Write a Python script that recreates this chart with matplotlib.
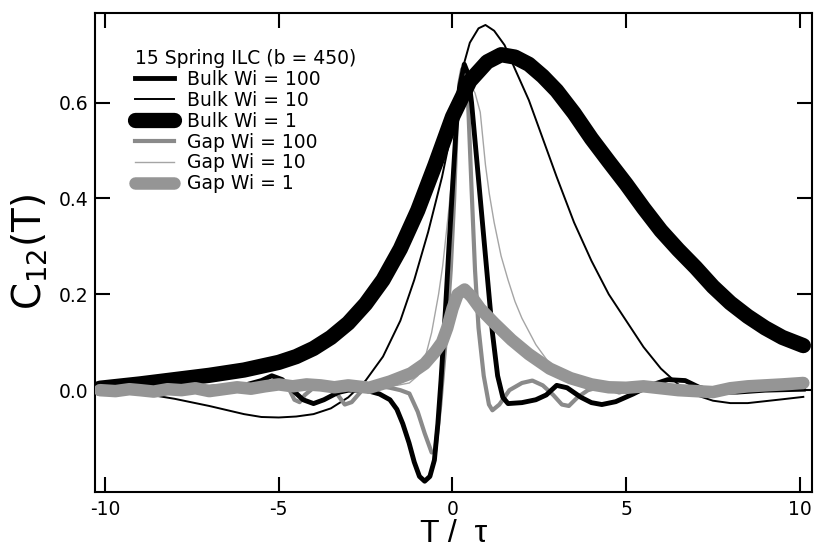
import matplotlib
matplotlib.use("Agg")
from matplotlib import pyplot as plt

plt.rcParams["font.family"] = ["DejaVu Sans"]
plt.rcParams["mathtext.default"] = "regular"

# Bulk Wi = 1 (broad peak)
t_bulk1 = [-10.15, -9, -8, -7, -6, -5, -4.5, -4, -3.5, -3, -2.5, -2, -1.5, -1, -0.5,
           0, 0.5, 1, 1.4, 1.8, 2.2, 2.6, 3, 3.5, 4, 4.5, 5, 5.5, 6, 6.5, 7, 7.5,
           8, 8.5, 9, 9.5, 10.1]
c_bulk1 = [0.004, 0.013, 0.022, 0.031, 0.042, 0.058, 0.07, 0.087, 0.11, 0.14, 0.18,
           0.23, 0.295, 0.375, 0.47, 0.57, 0.645, 0.685, 0.70, 0.695, 0.68, 0.655,
           0.625, 0.578, 0.525, 0.477, 0.43, 0.38, 0.333, 0.293, 0.256, 0.216,
           0.182, 0.154, 0.13, 0.11, 0.093]

# Bulk Wi = 10
t_bulk10 = [-10.15, -9, -8, -7, -6, -5.5, -5, -4.5, -4, -3.5, -3, -2.5, -2, -1.5,
            -1.1, -0.7, -0.3, 0, 0.25, 0.5, 0.75, 0.95, 1.2, 1.5, 1.8, 2.2, 2.6,
            3, 3.5, 4, 4.5, 5, 5.5, 6, 6.5, 7, 7.5, 8, 8.5, 9, 9.5, 10.1]
c_bulk10 = [0.0, -0.006, -0.018, -0.033, -0.05, -0.056, -0.057, -0.055, -0.05,
            -0.038, -0.015, 0.02, 0.07, 0.145, 0.23, 0.33, 0.445, 0.55, 0.66,
            0.725, 0.755, 0.762, 0.75, 0.72, 0.67, 0.605, 0.525, 0.445, 0.35,
            0.27, 0.2, 0.145, 0.09, 0.045, 0.012, -0.01, -0.022, -0.027, -0.027,
            -0.023, -0.019, -0.014]

# Bulk Wi = 100
t_bulk100 = [-10.15, -9, -8, -7, -6, -5.5, -5.2, -4.9, -4.6, -4.3, -4.0, -3.7,
             -3.3, -3, -2.5, -2.1, -1.8, -1.6, -1.43, -1.25, -1.1, -0.95, -0.8,
             -0.65, -0.52, -0.42, -0.33, -0.2, -0.1, 0.0, 0.1, 0.2, 0.34, 0.45,
             0.55, 0.7, 0.85, 1.0, 1.15, 1.3, 1.45, 1.6, 2.0, 2.4, 2.7, 3.0, 3.3,
             3.7, 4.0, 4.3, 4.7, 5.2, 5.7, 6.2, 6.7, 7.1, 7.6, 8.2, 9, 10.1]
c_bulk100 = [0.0, 0.002, 0.004, 0.006, 0.01, 0.02, 0.03, 0.022, 0.0, -0.02, -0.028,
             -0.02, -0.005, 0.0, 0.0, -0.008, -0.02, -0.04, -0.07, -0.11, -0.15,
             -0.18, -0.19, -0.18, -0.146, -0.07, 0.02, 0.17, 0.3, 0.42, 0.54, 0.63,
             0.68, 0.66, 0.6, 0.48, 0.36, 0.24, 0.12, 0.03, -0.015, -0.028, -0.026,
             -0.02, -0.01, 0.01, 0.005, -0.015, -0.026, -0.03, -0.024, -0.008,
             0.01, 0.022, 0.02, 0.006, -0.004, -0.004, 0.0, 0.002]

# Gap Wi = 100
t_gap100 = [-10.15, -9.5, -9, -8.5, -8, -7.5, -7, -6.5, -6, -5.5, -5, -4.7, -4.55,
            -4.4, -4.25, -4, -3.6, -3.3, -3.1, -2.9, -2.6, -2.2, -1.8, -1.5, -1.24,
            -1.0, -0.8, -0.6, -0.5, -0.35, -0.17, -0.05, 0.05, 0.12, 0.2, 0.28,
            0.38, 0.45, 0.55, 0.65, 0.75, 0.9, 1.05, 1.15, 1.35, 1.64, 2.0, 2.3,
            2.6, 2.9, 3.15, 3.35, 3.6, 3.9, 4.3, 4.8, 5.3, 5.8, 6.3, 6.8, 7.3, 7.8,
            8.3, 8.8, 9.3, 9.7, 10.1]
c_gap100 = [0.0, 0.003, -0.003, 0.002, -0.002, 0.004, 0.0, -0.004, 0.003, 0.006,
            0.01, 0.002, -0.02, -0.025, -0.01, 0.005, 0.01, -0.01, -0.03, -0.025,
            0.0, 0.01, 0.005, 0.0, -0.007, -0.045, -0.09, -0.13, -0.128, -0.03,
            0.125, 0.25, 0.4, 0.55, 0.64, 0.67, 0.655, 0.6, 0.42, 0.25, 0.13,
            0.03, -0.03, -0.042, -0.03, 0.0, 0.015, 0.02, 0.01, -0.01, -0.03,
            -0.033, -0.015, 0.0, 0.008, -0.005, 0.006, 0.0, 0.005, -0.004, 0.003,
            -0.006, 0.002, 0.006, 0.002, 0.008, 0.01]

# Gap Wi = 10
t_gap10 = [-10.15, -9, -8, -7, -6, -5, -4, -3, -2.5, -2, -1.6, -1.24, -1.0, -0.85,
           -0.6, -0.4, -0.28, -0.1, 0.05, 0.2, 0.35, 0.5, 0.65, 0.8, 0.95, 1.06,
           1.2, 1.4, 1.6, 1.8, 2.0, 2.4, 2.8, 3.2, 3.6, 4.0, 4.5, 5, 6, 7, 8, 9,
           10.1]
c_gap10 = [0.0, 0.002, -0.002, 0.003, 0.0, 0.004, 0.0, 0.004, 0.005, 0.008, 0.01,
           0.015, 0.03, 0.05, 0.12, 0.2, 0.26, 0.38, 0.5, 0.6, 0.645, 0.64, 0.62,
           0.58, 0.47, 0.41, 0.35, 0.28, 0.23, 0.185, 0.15, 0.095, 0.055, 0.03,
           0.015, 0.006, 0.0, -0.004, 0.002, -0.003, 0.002, 0.0, 0.004]

# Gap Wi = 1
t_gap1 = [-10.15, -9.7, -9.3, -9, -8.6, -8.2, -7.8, -7.4, -7, -6.6, -6.2, -5.8,
          -5.4, -5, -4.6, -4.2, -3.8, -3.4, -3, -2.4, -1.8, -1.2, -0.8, -0.5,
          -0.3, -0.15, 0.0, 0.15, 0.35, 0.55, 0.8, 1.2, 1.7, 2.2, 2.8, 3.4, 4.0,
          4.5, 5, 5.5, 6, 6.5, 7, 7.5, 8, 8.5, 9, 9.5, 10.1]
c_gap1 = [0.0, -0.002, 0.002, 0.0, -0.003, 0.002, 0.0, 0.004, -0.002, 0.002,
          0.006, 0.003, 0.008, 0.012, 0.008, 0.012, 0.01, 0.006, 0.01, 0.005,
          0.018, 0.035, 0.055, 0.08, 0.1, 0.13, 0.17, 0.2, 0.21, 0.195, 0.17,
          0.14, 0.105, 0.075, 0.045, 0.025, 0.012, 0.006, 0.005, 0.008, 0.004,
          0.0, -0.002, -0.004, 0.004, 0.008, 0.01, 0.012, 0.015]

xticks = [-10, -5, 0, 5, 10]
yticks = [0.0, 0.2, 0.4, 0.6]

fig = plt.figure(figsize=(8.14, 5.54), dpi=100)
ax = fig.add_axes([95 / 814, 1 - 492 / 554, 717 / 814, 479 / 554])

ax.plot(t_bulk10, c_bulk10, color="black", lw=1.4, label="Bulk Wi = 10", zorder=1)
ax.plot(t_gap100, c_gap100, color="#8a8a8a", lw=3.0, label="Gap Wi = 100", zorder=2)
ax.plot(t_gap10, c_gap10, color="#a5a5a5", lw=1.0, label="Gap Wi = 10", zorder=2)
ax.plot(t_bulk1, c_bulk1, color="black", lw=11, solid_capstyle="round",
        label="Bulk Wi = 1", zorder=3)
ax.plot(t_bulk100, c_bulk100, color="black", lw=3.5, label="Bulk Wi = 100", zorder=4)
ax.plot(t_gap1, c_gap1, color="#959595", lw=9, solid_capstyle="round",
        label="Gap Wi = 1", zorder=5)

ax.set_xlim(-10.29, 10.35)
ax.set_ylim(-0.2125, 0.787)
ax.set_xticks(xticks)
ax.set_xticklabels(["-10", "-5", "0", "5", "10"])
ax.set_yticks(yticks)
ax.set_yticklabels(["0.0", "0.2", "0.4", "0.6"])
ax.tick_params(direction="in", length=11, width=1.5, top=True, right=True,
               labelsize=13.5, pad=5)
ax.tick_params(axis="x", pad=6)
for s in ax.spines.values():
    s.set_linewidth(1.5)

ax.set_xlabel("T /  \u03c4", fontsize=23, labelpad=0, family="Liberation Sans")
ax.set_ylabel("C$_{12}$(T)", fontsize=28, labelpad=6)

handles, labels = ax.get_legend_handles_labels()
order = ["Bulk Wi = 100", "Bulk Wi = 10", "Bulk Wi = 1",
         "Gap Wi = 100", "Gap Wi = 10", "Gap Wi = 1"]
hmap = dict(zip(labels, handles))
ax.legend([hmap[k] for k in order], order, title="15 Spring ILC (b = 450)",
          loc="upper left", bbox_to_anchor=(40 / 717, 443 / 479),
          frameon=False, fontsize=13.5, title_fontsize=13.5, alignment="left",
          borderpad=0, handlelength=2.1, handletextpad=0.65, labelspacing=0.1,
          borderaxespad=0)

fig.savefig("out.png", dpi=100)
